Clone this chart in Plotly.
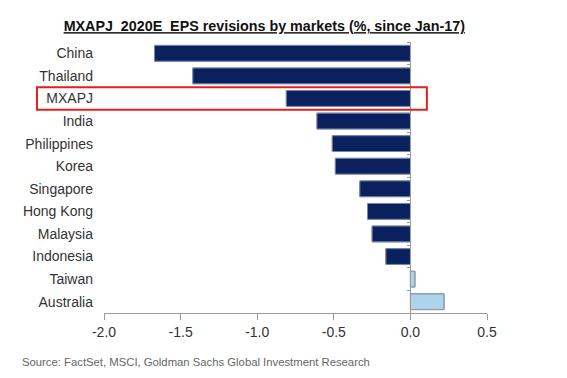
import plotly.graph_objects as go

markets = ["China", "Thailand", "MXAPJ", "India", "Philippines", "Korea",
           "Singapore", "Hong Kong", "Malaysia", "Indonesia", "Taiwan", "Australia"]
revisions = [-1.67, -1.42, -0.81, -0.61, -0.51, -0.49,
             -0.33, -0.28, -0.25, -0.16, 0.03, 0.22]
x_ticks = [-2.0, -1.5, -1.0, -0.5, 0.0, 0.5]
x_tick_labels = ["-2.0", "-1.5", "-1.0", "-0.5", "0.0", "0.5"]
highlight = "MXAPJ"

NAVY = "#0b215e"
LIGHT = "#aed3ef"
fill = [NAVY if v < 0 else LIGHT for v in revisions]
edge = [NAVY if v < 0 else "#3a4652" for v in revisions]

fig = go.Figure()
fig.add_trace(go.Bar(
    x=revisions, y=markets, orientation="h",
    marker=dict(color=fill, line=dict(color=edge, width=1)),
    hoverinfo="x+y", showlegend=False,
))
# invisible copy on a secondary y axis placed at x=0 (for the centre axis line + ticks)
fig.add_trace(go.Bar(
    x=revisions, y=markets, orientation="h", yaxis="y2",
    marker=dict(color="rgba(0,0,0,0)"), hoverinfo="skip", showlegend=False,
))

hi = markets.index(highlight)

fig.update_layout(
    width=567, height=378,
    margin=dict(l=96, r=88, t=34, b=73, autoexpand=False),
    paper_bgcolor="white", plot_bgcolor="white",
    font=dict(family="Liberation Sans, Arial, sans-serif", size=14, color="#333333"),
    bargap=0.3,
    title=dict(
        text="<b><u>MXAPJ  2020E  EPS revisions by markets (%, since Jan-17)</u></b>",
        x=0.452, xanchor="center", y=0.952, yanchor="middle",
        font=dict(size=14.3, color="#111111"),
    ),
    xaxis=dict(
        range=[-2.0, 0.5], tickvals=x_ticks, ticktext=x_tick_labels,
        showgrid=False, zeroline=False, showline=True, linecolor="#9a9a9a", linewidth=1,
        ticks="outside", ticklen=6, tickcolor="#9a9a9a", automargin=False,
        tickfont=dict(size=14, color="#333333"), fixedrange=True,
    ),
    yaxis=dict(
        categoryorder="array", categoryarray=markets, autorange="reversed",
        showgrid=False, zeroline=False, showline=False, ticks="", automargin=False,
        ticklabelstandoff=10, tickfont=dict(size=14, color="#333333"),
    ),
    yaxis2=dict(
        overlaying="y", matches="y", anchor="free", position=2.0 / 2.5,
        side="left", showline=True, linecolor="#9a9a9a", linewidth=1, automargin=False,
        ticks="outside", ticklen=3, tickcolor="#9a9a9a", tickson="boundaries",
        showticklabels=False, showgrid=False, zeroline=False,
        categoryorder="array", categoryarray=markets,
    ),
    shapes=[dict(
        type="rect", xref="paper", yref="y",
        x0=-0.175, x1=0.843, y0=hi - 0.5, y1=hi + 0.5,
        line=dict(color="#e3201b", width=2), fillcolor="rgba(0,0,0,0)",
    )],
    annotations=[dict(
        text="Source: FactSet, MSCI, Goldman Sachs Global Investment Research",
        xref="paper", yref="paper", x=-0.22, y=-0.18, xanchor="left", yanchor="middle",
        showarrow=False,
        font=dict(family="Liberation Sans Narrow, Arial Narrow, sans-serif", size=11.3, color="#666666"),
    )],
)

fig.write_html("out.html")
